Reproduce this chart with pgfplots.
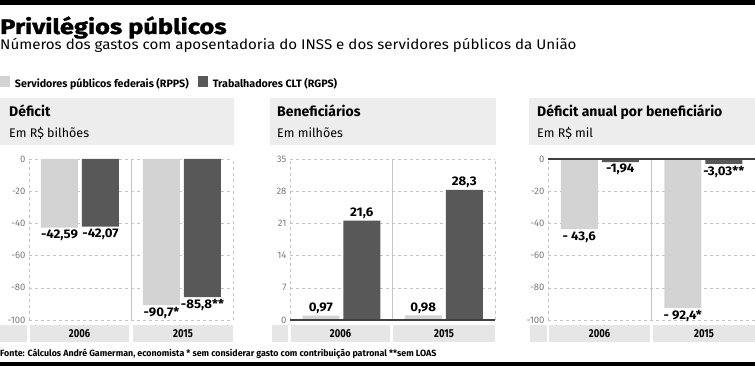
\documentclass[border=0pt]{standalone}
\usepackage{fontspec}
\setmainfont{Fira Sans}
\newfontfamily\condf{Fira Sans}[FakeStretch=0.82]
\newfontfamily\footf{Fira Sans}[FakeStretch=0.985]
\newfontfamily\numf{Fira Sans}[FakeStretch=1.06]
\newfontfamily\subf{Fira Sans}[FakeStretch=1.08]
\newfontfamily\titlef{Fira Sans}[FakeStretch=1.21, BoldFeatures={FakeBold=1.5}]
\usepackage{pgfplots}
\pgfplotsset{compat=1.18}
\definecolor{lightbar}{HTML}{D3D3D3}
\definecolor{darkbar}{HTML}{585858}
\definecolor{cellgray}{HTML}{E6E6E6}
\definecolor{headgray}{HTML}{EDEDED}
\definecolor{tickgray}{HTML}{7A7A7A}
\definecolor{gridgray}{HTML}{C4C4C4}
\pgfplotsset{
  panel/.style={
    scale only axis, anchor=south west, height=161pt,
    ybar=4pt, bar width=37pt,
    xmin=-0.5, xmax=1.5, xtick=\empty,
    axis line style={draw=none},
    ymajorgrids, major grid style={gridgray, dash pattern=on 3pt off 3pt},
    ytick style={draw=none},
    yticklabel style={font=\fontsize{9.5}{9.5}\selectfont, text=tickgray},
    /pgf/number format/assume math mode=true,
    point meta=explicit symbolic,
    nodes near coords,
    every node near coord/.append style={font=\numf\bfseries\fontsize{12.5}{12.5}\selectfont, text=black, inner sep=2pt},
    clip=false,
  },
  negpanel/.style={every node near coord/.append style={anchor=north}},
  sq/.style={legend image code/.code={\fill[##1] (0pt,-3pt) rectangle (10pt,8pt);}},
}
\begin{document}
\begin{tikzpicture}[x=1pt,y=1pt]
\path[use as bounding box] (0,0) rectangle (755,366);
% top and bottom bars
\fill[black] (0,361) rectangle (755,366);
\fill[black] (0,0) rectangle (755,4);
% title
\node[anchor=base west, inner sep=0] at (0,332) {\titlef\bfseries\fontsize{21}{21}\selectfont Privilégios públicos};
\node[anchor=base west, inner sep=0] at (0,316) {\subf\fontsize{14}{14}\selectfont Números dos gastos com aposentadoria do INSS e dos servidores públicos da União};
% header boxes
\fill[headgray] (0,221) rectangle (234,268);
\fill[headgray] (270,221) rectangle (496,268);
\fill[headgray] (529,221) rectangle (755,268);
\node[anchor=base west, inner sep=0] at (9,249) {\bfseries\fontsize{14}{14}\selectfont Déficit};
\node[anchor=base west, inner sep=0] at (9,228) {\fontsize{12.5}{12.5}\selectfont Em R\$ bilhões};
\node[anchor=base west, inner sep=0] at (277,249) {\bfseries\fontsize{14}{14}\selectfont Beneficiários};
\node[anchor=base west, inner sep=0] at (277,228) {\fontsize{12.5}{12.5}\selectfont Em milhões};
\node[anchor=base west, inner sep=0] at (537,249) {\bfseries\fontsize{14}{14}\selectfont Déficit anual por beneficiário};
\node[anchor=base west, inner sep=0] at (537,228) {\fontsize{12.5}{12.5}\selectfont Em R\$ mil};
% category bands
\foreach \a/\b in {0/27, 30/129, 133/233, 272/288, 291/390, 393/495, 530/547, 549/650, 653/755}{
  \fill[cellgray] (\a,24) rectangle (\b,41);
}
\foreach \c/\t in {79.5/2006, 183/2015, 340.5/2006, 444/2015, 599.5/2006, 704/2015}{
  \node[font=\condf\bfseries\fontsize{11.5}{11.5}\selectfont, inner sep=0] at (\c,32.5) {\t};
}
% footer
\node[anchor=base west, inner sep=0] at (0,9) {\footf\bfseries\fontsize{9}{9}\selectfont Fonte: Cálculos André Gamerman, economista * sem considerar gasto com contribuição patronal **sem LOAS};

% Panel 1
\begin{axis}[panel, negpanel, at={(29pt,46pt)}, width=204pt, ymin=-100, ymax=0, ytick={-100,-80,...,0},
  legend style={draw=none, fill=none, at={(axis description cs:-0.1422,1.515)}, anchor=north west,
    inner sep=0pt, outer sep=0pt, legend columns=2,
    font=\bfseries\fontsize{10.7}{10.7}\selectfont,
    /tikz/every odd column/.append style={column sep=3pt},
    /tikz/every even column/.append style={column sep=7pt}},
  legend cell align=left]
\draw[gridgray, dash pattern=on 3pt off 3pt] (rel axis cs:0,0) -- (rel axis cs:0,1);
\draw[gridgray, dash pattern=on 3pt off 3pt] (rel axis cs:1,0) -- (rel axis cs:1,1);
\draw[gridgray] (rel axis cs:0.5,0) -- (rel axis cs:0.5,1);
\addplot[fill=lightbar, draw=none, sq] coordinates {(0,-42.59) [-42,59] (1,-90.7) [-90,7*]};
\addplot[fill=darkbar, draw=none, sq] coordinates {(0,-42.07) [-42,07] (1,-85.8) [-85,8**]};
\legend{Servidores públicos federais (RPPS), Trabalhadores CLT (RGPS)}
\end{axis}

% Panel 2
\begin{axis}[panel, at={(290pt,46pt)}, width=205pt, ymin=0, ymax=35, ytick={0,7,...,35}]
\draw[gridgray, dash pattern=on 3pt off 3pt] (rel axis cs:0,0) -- (rel axis cs:0,1);
\draw[gridgray, dash pattern=on 3pt off 3pt] (rel axis cs:1,0) -- (rel axis cs:1,1);
\draw[gridgray] (rel axis cs:0.5,0) -- (rel axis cs:0.5,1);
\addplot[fill=lightbar, draw=none] coordinates {(0,0.97) [0,97] (1,0.98) [0,98]};
\addplot[fill=darkbar, draw=none] coordinates {(0,21.6) [21,6] (1,28.3) [28,3]};
\draw[black!75, line width=1.2pt] (rel axis cs:0,0) -- (rel axis cs:1,0);
\end{axis}

% Panel 3
\begin{axis}[panel, negpanel, at={(548pt,46pt)}, width=207pt, ymin=-100, ymax=0, ytick={-100,-80,...,0}]
\draw[gridgray, dash pattern=on 3pt off 3pt] (rel axis cs:0,0) -- (rel axis cs:0,1);
\draw[gridgray] (rel axis cs:0.5,0) -- (rel axis cs:0.5,1);
\addplot[fill=lightbar, draw=none] coordinates {(0,-43.6) [- 43,6] (1,-92.4) [- 92,4*]};
\addplot[fill=darkbar, draw=none] coordinates {(0,-1.94) [-1,94] (1,-3.03) [-3,03**]};
\draw[black!75, line width=1.2pt] (rel axis cs:0,1) -- (rel axis cs:1,1);
\end{axis}
\end{tikzpicture}
\end{document}
